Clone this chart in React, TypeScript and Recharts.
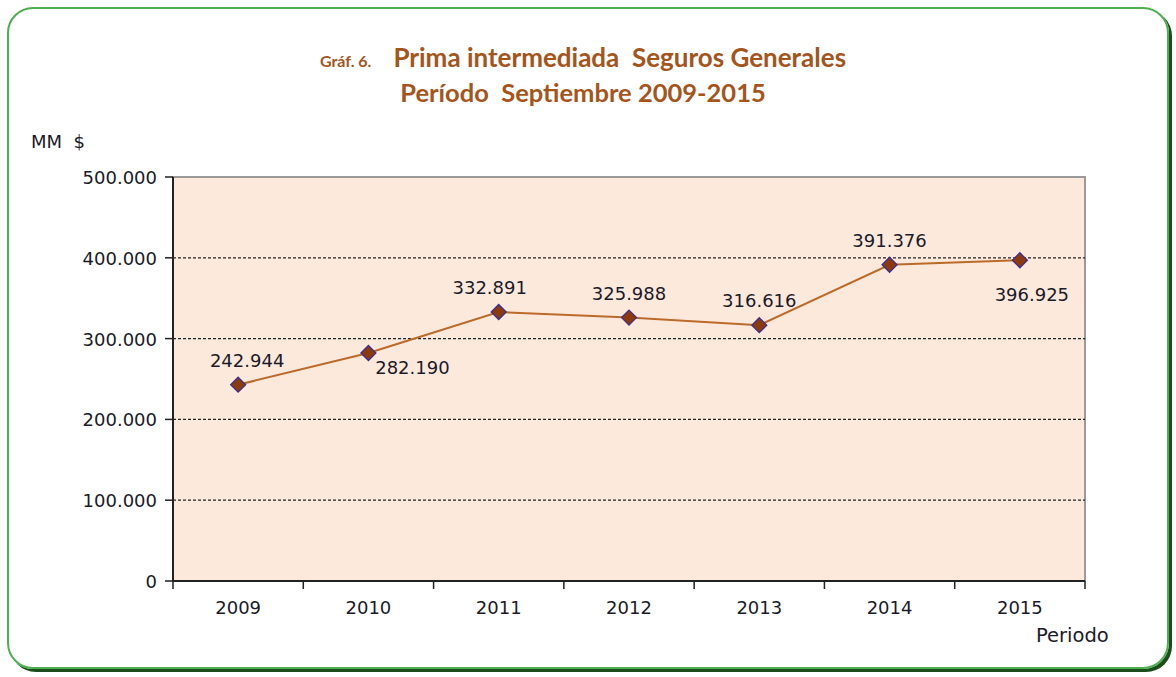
import {
  LineChart,
  Line,
  XAxis,
  YAxis,
  ReferenceLine,
  ReferenceArea,
  LabelList,
} from 'recharts';

// Prima intermediada, MM $ (Septiembre de cada año)
const years = ['2009', '2010', '2011', '2012', '2013', '2014', '2015'];
const prima = [242944, 282190, 332891, 325988, 316616, 391376, 396925];
const yTicks = [0, 100000, 200000, 300000, 400000, 500000];
const gridValues = [100000, 200000, 300000, 400000];
// where each data label sits relative to its point
const labelSide = ['up', 'downRight', 'up', 'up', 'up', 'up', 'down'];

const chartData = years.map((year, i) => ({ x: i + 0.5, year, prima: prima[i] }));

// ticks at band edges (integers) and labels at band centres (halves)
const xTicks: number[] = [];
for (let i = 0; i <= years.length * 2; i++) xTicks.push(i / 2);

const FONT = "'DejaVu Sans', 'Liberation Sans', Arial, sans-serif";
const TXT = '#1a1a2a';

const fmt = (v: number) => (v === 0 ? '0' : (v / 1000).toFixed(3));

const XTick = (props: any) => {
  const { x, y, payload } = props;
  const v = payload.value;
  if (Number.isInteger(v)) {
    return <line x1={x} y1={y - 8} x2={x} y2={y} stroke="#222" strokeWidth={1.5} />;
  }
  const idx = Math.floor(v);
  return (
    <text x={x} y={y + 25} textAnchor="middle" fill={TXT} fontSize={18} fontFamily={FONT}>
      {years[idx]}
    </text>
  );
};

const YTick = (props: any) => {
  const { x, y, payload } = props;
  return (
    <text x={x - 6} y={y + 7} textAnchor="end" fill={TXT} fontSize={18} fontFamily={FONT}>
      {fmt(payload.value)}
    </text>
  );
};

const Diamond = (props: any) => {
  const { cx, cy } = props;
  if (cx == null || cy == null) return null;
  const r = 7.5;
  return (
    <path
      d={`M${cx},${cy - r} L${cx + r},${cy} L${cx},${cy + r} L${cx - r},${cy} Z`}
      fill="#8B3A0E"
      stroke="#3E2E8E"
      strokeWidth={1.3}
    />
  );
};

const ValueLabel = (props: any) => {
  const { x, y, index, value } = props;
  const side = labelSide[index];
  let dx = 0;
  let dy = -18;
  if (side === 'downRight') {
    dx = 44;
    dy = 21;
  } else if (side === 'down') {
    dx = 12;
    dy = 41;
  } else if (index === 2) {
    dx = -9;
  } else if (index === 0) {
    dx = 9;
  }
  return (
    <text x={x + dx} y={y + dy} textAnchor="middle" fill={TXT} fontSize={18} fontFamily={FONT}>
      {fmt(value)}
    </text>
  );
};

export default function App() {
  return (
    <div
      style={{
        position: 'absolute',
        left: 0,
        top: 0,
        width: 1176,
        height: 677,
        background: '#fff',
        overflow: 'hidden',
      }}
    >
      <div
        style={{
          position: 'absolute',
          left: 7,
          top: 7,
          width: 1158,
          height: 658,
          border: '2.5px solid #4CAF50',
          borderRadius: 26,
          boxShadow: '3px 3px 0 #1d4d1d',
        }}
      />
      <div
        style={{
          position: 'absolute',
          left: 0,
          width: 1166,
          top: 39,
          textAlign: 'center',
          color: '#A5541C',
          fontFamily: "Lato, 'Open Sans', sans-serif",
          fontWeight: 700,
          lineHeight: '36px',
        }}
      >
        <div style={{ fontSize: 26, height: 36 }}>
          <span style={{ fontSize: 16, marginRight: 22 }}>Gráf. 6.</span>
          Prima intermediada&nbsp; Seguros Generales
        </div>
        <div style={{ fontSize: 25.5, marginTop: -1 }}>Período&nbsp; Septiembre 2009-2015</div>
      </div>
      <div
        style={{
          position: 'absolute',
          left: 31,
          top: 131,
          fontSize: 18,
          color: TXT,
          fontFamily: FONT,
        }}
      >
        MM&nbsp; $
      </div>
      <div
        style={{
          position: 'absolute',
          left: 1036,
          top: 624,
          fontSize: 19.5,
          color: TXT,
          fontFamily: FONT,
        }}
      >
        Periodo
      </div>
      <div style={{ position: 'absolute', left: 0, top: 0 }}>
        <LineChart
          width={1176}
          height={677}
          data={chartData}
          margin={{ top: 177, right: 91, bottom: 56, left: 0 }}
        >
          <XAxis
            dataKey="x"
            type="number"
            domain={[0, years.length]}
            ticks={xTicks}
            interval={0}
            tick={<XTick />}
            tickLine={false}
            axisLine={{ stroke: '#222', strokeWidth: 2 }}
            height={40}
          />
          <YAxis
            type="number"
            domain={[0, 500000]}
            ticks={yTicks}
            interval={0}
            width={173}
            tick={<YTick />}
            tickSize={8}
            tickLine={{ stroke: '#222', strokeWidth: 1.5 }}
            axisLine={{ stroke: '#222', strokeWidth: 2 }}
          />
          <ReferenceArea
            x1={0}
            x2={years.length}
            y1={0}
            y2={500000}
            fill="#FDE9DB"
            fillOpacity={1}
            stroke="#9a9a9a"
            strokeWidth={2}
          />
          {gridValues.map((v) => (
            <ReferenceLine key={v} y={v} stroke="#222" strokeDasharray="3 2" strokeWidth={1.2} />
          ))}
          <Line
            type="linear"
            dataKey="prima"
            stroke="#BC6A2A"
            strokeWidth={2}
            dot={<Diamond />}
            activeDot={false}
            isAnimationActive={false}
          >
            <LabelList dataKey="prima" content={<ValueLabel />} />
          </Line>
        </LineChart>
      </div>
    </div>
  );
}
